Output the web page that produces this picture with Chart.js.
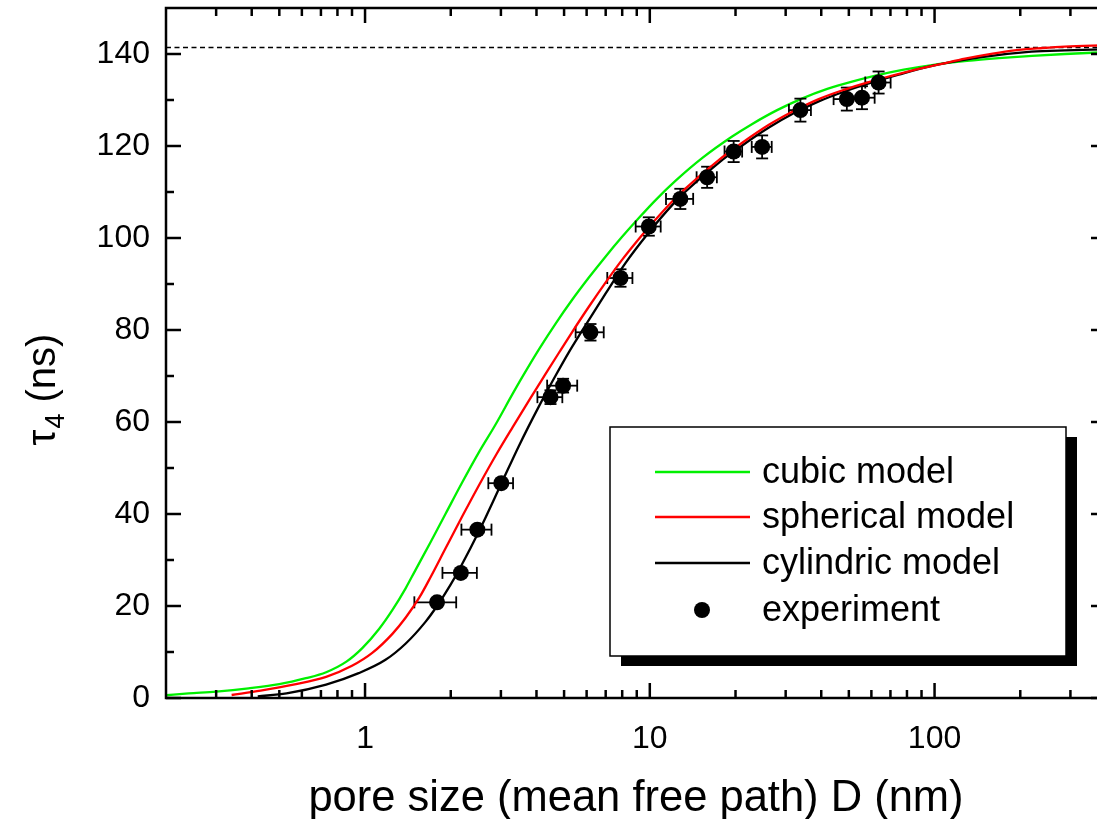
<!DOCTYPE html>
<html><head><meta charset="utf-8">
<script src="https://cdn.jsdelivr.net/npm/chart.js@4/dist/chart.umd.min.js"></script>
<style>html,body{margin:0;padding:0;overflow:hidden;background:#fff}canvas{display:block}</style>
</head><body>
<canvas id="c" width="1120" height="819" style="width:1120px;height:819px"></canvas>
<script>
// ---------- data ----------
const cubicX = [0.2,0.24,0.3,0.39,0.5,0.62,0.73,0.86,0.98,1.12,1.25,1.39,1.5,1.7,1.92,2.2,2.51,2.87,3.29,3.56,4.08,4.67,5.3,6.11,7.0,7.98,9.2,10.5,12.3,15.3,19.4,22.9,28,34.2,42,51.3,62,78,98,130,168,220,287,400];
const cubicY = [0.6,1.0,1.4,2.1,3.0,4.3,5.6,7.9,10.9,15.0,19.2,23.9,27.7,33.9,40.1,47.0,53.4,59.4,66.0,69.7,75.8,81.4,86.3,91.4,96.0,100.2,104.5,108.3,112.4,117.4,122.0,124.8,127.8,130.3,132.4,134.0,135.3,136.6,137.6,138.5,139.1,139.6,140.0,140.4];

const sphericalX = [0.34,0.43,0.56,0.73,0.9,1.06,1.25,1.39,1.55,1.7,1.92,2.2,2.51,2.9,3.3,3.8,4.3,4.79,5.33,6.1,6.99,8.0,9.15,10.2,12.0,13.3,17.5,21,26.2,32,39.2,48,58.7,70,85.8,105,128,160,191,240,287,400];
const sphericalY = [0.65,1.6,2.9,4.6,7.0,9.8,14.0,17.5,21.8,26.3,32.6,39.6,46.2,53.1,58.9,65.1,70.4,75.0,79.5,85.0,90.3,95.3,99.8,103.2,108.0,110.7,117.0,120.6,124.6,127.6,130.2,132.2,133.9,135.2,136.6,137.8,139.0,140.1,140.8,141.3,141.6,141.9];

const cylindricX = [0.42,0.53,0.73,0.95,1.18,1.39,1.63,1.79,2.0,2.17,2.51,3.02,3.47,4.08,4.67,5.2,5.78,6.99,8.2,9.92,12.0,13.3,17.5,21,26.2,32,39.2,48,58.7,74.8,97.9,146.6,219,287,400];
const cylindricY = [0.35,1.0,2.9,5.4,8.3,11.85,16.55,20.0,24.7,28.6,36.2,46.8,54.8,63.4,70.1,75.2,79.8,87.9,94.5,101.2,107.2,110.0,116.4,120.0,124.0,127.1,129.7,131.8,133.6,135.5,137.4,139.3,140.5,140.8,141.0];

const expX    = [1.79,2.17,2.48,3.01,4.48,4.96,6.19,7.89,9.92,12.8,15.9,19.7,24.8,33.8,49.2,55.6,63.6];
const expY    = [20.8,27.2,36.6,46.7,65.4,67.9,79.5,91.3,102.5,108.5,113.2,118.8,119.8,127.8,130.2,130.5,133.8];
const expXErr = [0.3,0.3,0.3,0.3,0.45,0.6,0.7,0.8,1.0,1.4,1.3,1.4,2.0,3.0,5.0,6.0,6.5];
const expYErr = [0,0,0,0,1.5,1.5,1.8,1.9,2.0,2.2,2.3,2.3,2.5,2.5,2.5,2.5,2.4];

const limitValue = 141.5;           // dashed asymptote
const seriesLabels = ['cubic model','spherical model','cylindric model','experiment'];
const seriesColors = ['#00f000','#ff0000','#000000','#000000'];

const xMajorTicks = [1,10,100];
const xTickLabels = ['1','10','100'];
const xMinorTicks = [0.3,0.4,0.5,0.6,0.7,0.8,0.9,2,3,4,5,6,7,8,9,20,30,40,50,60,70,80,90,200,300];
const yMajorTicks = [0,20,40,60,80,100,120,140];
const yTickLabels = ['0','20','40','60','80','100','120','140'];
const yMinorTicks = [10,30,50,70,90,110,130];

const xTitle = 'pore size (mean free path) D (nm)';
const yTitleMain = '\u03C4', yTitleSub = '4', yTitleRest = ' (ns)';

// ---------- helpers ----------
const FONT = "'Liberation Sans', Arial, Helvetica, sans-serif";
const pts = (xs, ys) => xs.map((v, i) => ({x: v, y: ys[i]}));

const decor = {
  id: 'decor',
  beforeDatasetsDraw(chart) {
    const {ctx, chartArea: a, scales: {x, y}} = chart;
    ctx.save();
    ctx.beginPath(); ctx.rect(a.left, a.top, a.right - a.left, a.bottom - a.top); ctx.clip();
    ctx.strokeStyle = '#000'; ctx.lineWidth = 1.3; ctx.setLineDash([5, 3.5]);
    const yy = Math.round(y.getPixelForValue(limitValue)) + 0.5;
    ctx.beginPath(); ctx.moveTo(a.left, yy); ctx.lineTo(a.right, yy); ctx.stroke();
    ctx.setLineDash([]);
    ctx.restore();
  },
  afterDatasetDraw(chart, args) {
    if (args.index !== 2) return;   // error bars above the curves, below the markers
    const {ctx, scales: {x, y}} = chart;
    ctx.save();
    ctx.strokeStyle = '#000'; ctx.lineWidth = 1.8;
    const seg = (x1, y1, x2, y2) => { ctx.beginPath(); ctx.moveTo(x1, y1); ctx.lineTo(x2, y2); ctx.stroke(); };
    expX.forEach((xv, i) => {
      const px = x.getPixelForValue(xv), py = y.getPixelForValue(expY[i]);
      if (expXErr[i] > 0) {
        const x1 = x.getPixelForValue(xv - expXErr[i]), x2 = x.getPixelForValue(xv + expXErr[i]);
        seg(x1, py, x2, py); seg(x1, py - 6, x1, py + 6); seg(x2, py - 6, x2, py + 6);
      }
      if (expYErr[i] > 0) {
        const y1 = y.getPixelForValue(expY[i] - expYErr[i]), y2 = y.getPixelForValue(expY[i] + expYErr[i]);
        seg(px, y1, px, y2); seg(px - 6, y1, px + 6, y1); seg(px - 6, y2, px + 6, y2);
      }
    });
    ctx.restore();
  },
  afterDraw(chart) {
    const {ctx, chartArea: a, scales: {x, y}} = chart;
    ctx.save();
    ctx.strokeStyle = '#000'; ctx.lineWidth = 2.5;
    ctx.strokeRect(a.left, a.top, a.right - a.left, a.bottom - a.top);
    const seg = (x1, y1, x2, y2) => { ctx.beginPath(); ctx.moveTo(x1, y1); ctx.lineTo(x2, y2); ctx.stroke(); };
    const MAJ = 15, MIN = 8;
    xMajorTicks.forEach(v => { const p = x.getPixelForValue(v); seg(p, a.bottom, p, a.bottom - MAJ); seg(p, a.top, p, a.top + MAJ); });
    xMinorTicks.forEach(v => { const p = x.getPixelForValue(v); seg(p, a.bottom, p, a.bottom - MIN); seg(p, a.top, p, a.top + MIN); });
    yMajorTicks.forEach(v => { const p = y.getPixelForValue(v); seg(a.left, p, a.left + MAJ, p); seg(a.right, p, a.right - MAJ, p); });
    yMinorTicks.forEach(v => { const p = y.getPixelForValue(v); seg(a.left, p, a.left + MIN, p); seg(a.right, p, a.right - MIN, p); });

    // axis titles
    ctx.fillStyle = '#000';
    ctx.font = '43.5px ' + FONT; ctx.textAlign = 'center'; ctx.textBaseline = 'alphabetic';
    ctx.fillText(xTitle, (a.left + a.right) / 2, 811);

    ctx.save();
    ctx.translate(55, 390); ctx.rotate(-Math.PI / 2);
    ctx.textAlign = 'left';
    const fMain = '40px ' + FONT, fSub = '27px ' + FONT;
    ctx.font = fMain; const w1 = ctx.measureText(yTitleMain).width, w3 = ctx.measureText(yTitleRest).width;
    ctx.font = fSub; const w2 = ctx.measureText(yTitleSub).width;
    let sx = -(w1 + w2 + w3) / 2;
    ctx.font = fMain; ctx.fillText(yTitleMain, sx, 0); sx += w1;
    ctx.font = fSub; ctx.fillText(yTitleSub, sx + 1, 9); sx += w2 + 1;
    ctx.font = fMain; ctx.fillText(yTitleRest, sx, 0);
    ctx.restore();

    // legend
    const L = 610, T = 427, R = 1066, B = 656;
    ctx.fillStyle = '#000'; ctx.fillRect(L + 11, T + 10, R - L, B - T);
    ctx.fillStyle = '#fff'; ctx.fillRect(L, T, R - L, B - T);
    ctx.lineWidth = 1.5; ctx.strokeStyle = '#000'; ctx.strokeRect(L, T, R - L, B - T);
    const rows = [472, 517, 563, 610];
    ctx.font = '36px ' + FONT; ctx.textAlign = 'left'; ctx.textBaseline = 'middle';
    chart.data.datasets.slice().sort((p, q) => p.legendIndex - q.legendIndex).forEach((ds, i) => {
      const ry = rows[i];
      if (ds.showLine === false) {
        ctx.fillStyle = ds.backgroundColor; ctx.beginPath(); ctx.arc(702, ry, 8, 0, Math.PI * 2); ctx.fill();
      } else {
        ctx.strokeStyle = ds.borderColor; ctx.lineWidth = 2.5; seg(655, ry, 750, ry);
      }
      ctx.fillStyle = '#000'; ctx.fillText(ds.label, 762, ry + 1);
    });
    ctx.restore();
  }
};

const curve = (i, xs, ys, order) => ({
  type: 'scatter', label: seriesLabels[i], data: pts(xs, ys), showLine: true,
  borderColor: seriesColors[i], backgroundColor: seriesColors[i], borderWidth: 2.3,
  pointRadius: 0, cubicInterpolationMode: 'monotone', order, legendIndex: i
});

new Chart(document.getElementById('c'), {
  type: 'scatter',
  data: {
    datasets: [
      { type: 'scatter', label: seriesLabels[3], data: pts(expX, expY), showLine: false,
        pointRadius: 8, pointHoverRadius: 8, pointStyle: 'circle',
        backgroundColor: '#000', borderColor: '#000', borderWidth: 0, order: 0, legendIndex: 3 },
      curve(1, sphericalX, sphericalY, 1),
      curve(2, cylindricX, cylindricY, 2),
      curve(0, cubicX, cubicY, 3)
    ]
  },
  options: {
    responsive: false, animation: false, devicePixelRatio: 1,
    layout: { padding: { left: 0, top: 8, right: 14, bottom: 0 } },
    plugins: { legend: { display: false }, tooltip: { enabled: false } },
    scales: {
      x: {
        type: 'logarithmic', min: 0.2, max: 400, position: 'bottom',
        grid: { display: false, drawTicks: false }, border: { display: false },
        afterBuildTicks: s => { s.ticks = xMajorTicks.map(v => ({ value: v })); },
        afterFit: s => { s.height = 121; s.paddingLeft = 0; s.paddingRight = 0; s.paddingTop = 0; s.paddingBottom = 0; },
        ticks: { autoSkip: false, maxRotation: 0, padding: 22, color: '#000',
                 font: { family: FONT, size: 32 },
                 callback: v => { const k = xMajorTicks.indexOf(v); return k >= 0 ? xTickLabels[k] : ''; } }
      },
      y: {
        type: 'linear', min: 0, max: 150, position: 'left',
        grid: { display: false, drawTicks: false }, border: { display: false },
        afterBuildTicks: s => { s.ticks = yMajorTicks.map(v => ({ value: v })); },
        afterFit: s => { s.width = 166; s.paddingLeft = 0; s.paddingRight = 0; s.paddingTop = 0; s.paddingBottom = 0; },
        ticks: { autoSkip: false, padding: 16, color: '#000',
                 font: { family: FONT, size: 32 },
                 callback: v => { const k = yMajorTicks.indexOf(v); return k >= 0 ? yTickLabels[k] : ''; } }
      }
    }
  },
  plugins: [decor]
});
</script>
</body></html>
